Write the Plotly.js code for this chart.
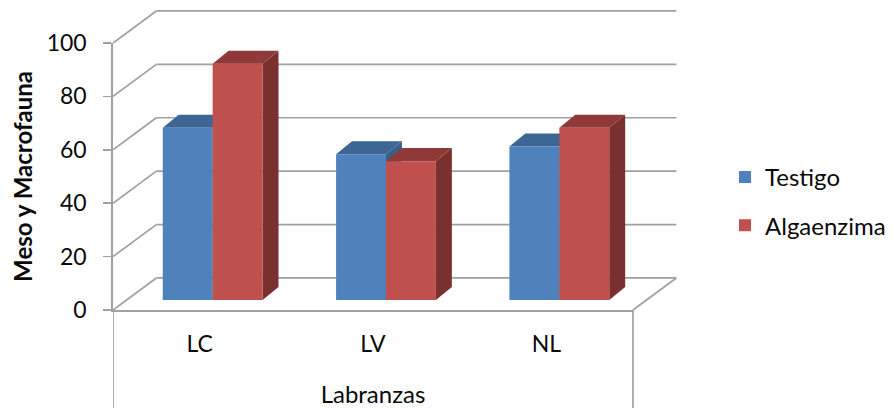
<!DOCTYPE html>
<html>
<head>
<meta charset="utf-8">
<script src="https://cdn.plot.ly/plotly-3.0.1.min.js"></script>
<style>html,body{margin:0;padding:0;background:#fff}#c{width:892px;height:408px}</style>
</head>
<body>
<div id="c"></div>
<script>
var categories = ['LC', 'LV', 'NL'];
var testigo = [64.5, 54.6, 57.5];
var algaenzima = [88.5, 52, 64.5];
var yTicks = [0, 20, 40, 60, 80, 100];

var FONT = 'Lato, "Open Sans", sans-serif';
var INK = '#0a0a0a';
var GRID = '#a0a0a0';
var xPos = categories.map(function (c, i) { return i + 0.5; });

// Oblique-projection offsets, in axis units
var wallDx = 0.25, wallDy = 12;       // floor/wall depth
var floorDx = 0.075, floorDy = 3.74;  // where bar fronts stand on the floor
var barDx = 0.092, barDy = 4.9;       // bar depth
var barW = 0.288;                     // one bar's width in axis units
var geoX = 3.329, geoYLo = -36.7, geoYHi = 114.23; // extent of the backdrop axes

// Wall, floor and gridlines
var gx = [], gy = [];
function seg(x0, y0, x1, y1) { gx.push(x0, x1, null); gy.push(y0, y1, null); }
yTicks.forEach(function (t) {
  seg(0, t, wallDx, t + wallDy);
  seg(wallDx, t + wallDy, 3 + wallDx, t + wallDy);
});
seg(3, 0, 3 + wallDx, wallDy);
seg(0, 0, 0, geoYLo);
seg(3, 0, 3, geoYLo);

var traces = [{
  type: 'scatter', mode: 'lines', x: gx, y: gy,
  line: { color: GRID, width: 1.7 }, showlegend: false, hoverinfo: 'skip'
}];

function poly(xs, ys, color) {
  traces.push({
    type: 'scatter', mode: 'lines', x: xs, y: ys, fill: 'toself', fillcolor: color,
    line: { width: 0, color: color }, showlegend: false, hoverinfo: 'skip'
  });
}
function faces(values, shift, topColor, sideColor) {
  values.forEach(function (v, i) {
    var l = xPos[i] + floorDx + shift, r = l + barW, t = v + floorDy, b = floorDy;
    poly([r, r + barDx, r + barDx, r, r], [b, b + barDy, t + barDy, t, b], sideColor);
    poly([l, l + barDx, r + barDx, r, l], [t, t + barDy, t + barDy, t, t], topColor);
  });
}
faces(testigo, -barW, '#3e6695', '#38608c');
faces(algaenzima, 0, '#8f3a38', '#7a302e');

var barX = xPos.map(function (x) { return x + floorDx; });
traces.push({
  type: 'bar', name: 'Testigo', x: barX, y: testigo, base: floorDy, xaxis: 'x2', yaxis: 'y2',
  marker: { color: '#4f81bd' }, legendgroup: 'a'
});
traces.push({
  type: 'bar', name: 'Algaenzima', x: barX, y: algaenzima, base: floorDy, xaxis: 'x2', yaxis: 'y2',
  marker: { color: '#c0504d' }, legendgroup: 'b'
});

var layout = {
  width: 892, height: 408,
  margin: { l: 113, r: 202, t: 5, b: 0 },
  paper_bgcolor: '#fff', plot_bgcolor: 'rgba(0,0,0,0)',
  font: { family: FONT, size: 23, color: INK },
  barmode: 'group', bargap: 1 - 2 * barW, bargroupgap: 0,
  showlegend: true,
  legend: { x: 1.0607, xanchor: 'left', y: 0.628, yanchor: 'top', tracegroupgap: 14,
            font: { family: FONT, size: 24, color: INK }, bgcolor: 'rgba(0,0,0,0)' },
  // Backdrop axes: walls, floor and the depth faces of the bars
  xaxis: { domain: [0, 1], range: [0, geoX], visible: false },
  yaxis: { domain: [0, 1], range: [geoYLo, geoYHi], visible: false },
  // Value axes: bar fronts, ticks and titles
  xaxis2: {
    domain: [0, 0.9012], anchor: 'y2', range: [0, 3], tickmode: 'array', tickvals: xPos, ticktext: categories,
    showgrid: false, zeroline: false, showline: true, linecolor: GRID, linewidth: 1.7,
    ticks: '', ticklabelstandoff: 13, tickfont: { family: FONT, size: 23, color: INK },
    title: { text: 'Labranzas', standoff: 34, font: { family: FONT, size: 24, color: INK } }
  },
  yaxis2: {
    domain: [0.24318, 0.90571], anchor: 'x2', range: [0, 100], tickmode: 'array', tickvals: yTicks,
    showgrid: false, zeroline: false, showline: true, linecolor: GRID, linewidth: 1.7,
    ticks: 'outside', ticklen: 8, tickcolor: GRID, tickwidth: 1.7, ticklabelstandoff: 12,
    tickfont: { family: FONT, size: 23, color: INK },
    title: { text: '<b>Meso y Macrofauna</b>', standoff: 7, font: { family: FONT, size: 24, color: INK } }
  }
};

Plotly.newPlot('c', traces, layout, { displayModeBar: false, staticPlot: true });
</script>
</body>
</html>
